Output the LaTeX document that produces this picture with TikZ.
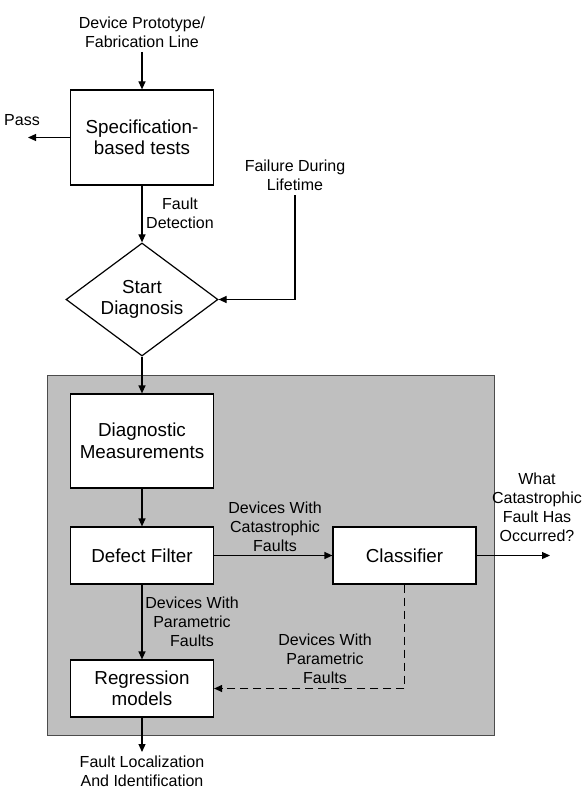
\documentclass[tikz,border=0pt]{standalone}
\usepackage{fontspec}
\setmainfont{Liberation Sans}
\usetikzlibrary{arrows.meta,shapes.geometric}
\begin{document}
\begin{tikzpicture}[x=1pt,y=-1pt,
  box/.style={draw, fill=white, line width=1.2pt, minimum width=143pt, align=center, inner sep=0pt,
    font=\fontsize{18.8}{21.5}\selectfont},
  lbl/.style={align=center, inner sep=0pt, font=\fontsize{16}{19}\selectfont},
  arr/.style={-{Triangle[length=8pt,width=7pt]}, line width=1.2pt},
  panelbox/.style={draw=black!70, fill=black!25, line width=0.8pt, inner sep=0pt}]
\useasboundingbox (0,0) rectangle (587,789);
% panel
\node[panelbox, minimum width=447pt, minimum height=360pt] (panel) at (270.5,555) {};
% boxes
\node[box, minimum height=95pt] (spec) at (142,137.5) {Specification-\\based tests};
\node[draw, fill=white, line width=1.2pt, diamond, aspect=1.35, inner sep=0pt,
      minimum width=152pt, minimum height=113pt, align=center,
      font=\fontsize{18.8}{21.5}\selectfont] (diag) at (142,299.5) {Start\\Diagnosis};
\node[box, minimum height=94pt] (meas) at (142,441) {Diagnostic\\Measurements};
\node[box, minimum height=57pt] (filter) at (142,555.5) {Defect Filter};
\node[box, minimum height=57pt] (class) at (404.5,555.5) {Classifier};
\node[box, minimum height=57pt] (regr) at (142,688.5) {Regression\\models};
% labels
\node[lbl] (toplbl) at (142,32) {Device Prototype/\\Fabrication Line};
\node[lbl] (passlbl) at (22,120) {Pass};
\node[lbl] (detlbl) at (180,213) {Fault\\Detection};
\node[lbl] (faillbl) at (295,175) {Failure During\\Lifetime};
\node[lbl] (catlbl) at (275,527) {Devices With\\Catastrophic\\Faults};
\node[lbl] (whatlbl) at (537,507.5) {What\\Catastrophic\\Fault Has\\Occurred?};
\node[lbl] (par1lbl) at (192,622) {Devices With\\Parametric\\Faults};
\node[lbl] (par2lbl) at (325,659) {Devices With\\Parametric\\Faults};
\node[lbl] (botlbl) at (142,771) {Fault Localization\\And Identification};
% free ends
\coordinate (topin) at (142,52);
\coordinate (passend) at (28,137.5);
\coordinate (failstart) at (295,195);
\coordinate (whatend) at (550,555.5);
\coordinate (botend) at (142,752);
% connectors
\draw[arr] (topin) -- (spec);
\draw[arr] (spec.west) -- (passend);
\draw[arr] (spec) -- (diag);
\draw[arr] (failstart) |- (diag.east);
\draw[arr] (diag) -- (meas);
\draw[arr] (meas) -- (filter);
\draw[arr] (filter) -- (class);
\draw[arr] (class.east) -- (whatend);
\draw[arr] (filter) -- (regr);
\draw[arr, dash pattern=on 8pt off 5pt] (class.south) |- (regr.east);
\draw[arr] (regr) -- (botend);
\end{tikzpicture}
\end{document}
